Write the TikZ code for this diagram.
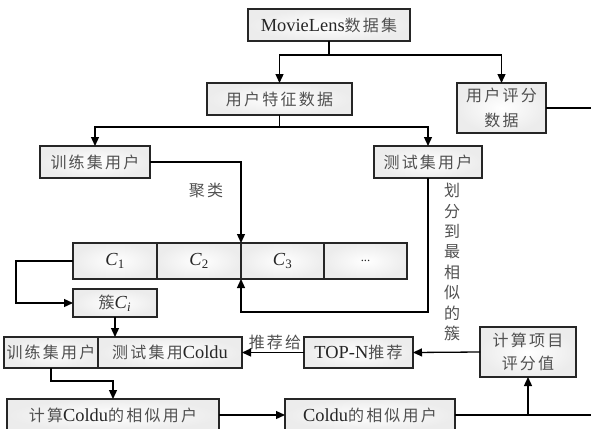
\documentclass[tikz,border=0pt]{standalone}
\usepackage{fontspec}
\setmainfont{Liberation Serif}[Scale=1.15]
\newfontfamily\cjk[LetterSpace=14,Color=505050]{Noto Sans CJK SC}
\newcommand{\zh}[1]{{\cjk #1}}
\usetikzlibrary{arrows.meta,shadings}
\begin{document}
\begin{tikzpicture}[x=1pt,y=-1pt,
  every node/.style={text=black!85,font=\fontsize{16}{19}\selectfont},
  box/.style={draw=black!85,line width=1.3pt,inner sep=0pt,outer sep=0pt,
    inner color=white,outer color=gray!15,align=center},
  arr/.style={line width=1.3pt,draw=black,-{Triangle[width=8pt,length=9pt]}},
  ln/.style={line width=1.3pt,draw=black},
  lbl/.style={inner sep=0pt}]
\useasboundingbox (0,0) rectangle (591,428);
% nodes
\node[box,minimum width=162,minimum height=32] (ml) at (329,25) {MovieLens\zh{数据集}};
\node[box,minimum width=145,minimum height=32] (feat) at (279.5,99) {\zh{用户特征数据}};
\node[box,minimum width=89,minimum height=50,font=\fontsize{16}{25}\selectfont] (rate) at (501.5,108) {\zh{用户评分}\\\zh{数据}};
\node[box,minimum width=110,minimum height=32] (train1) at (95,162) {\zh{训练集用户}};
\node[box,minimum width=108,minimum height=32] (test1) at (428,162) {\zh{测试集用户}};
\node[box,minimum width=84,minimum height=36] (c1) at (115,261) {\textit{C}\textsubscript{1}};
\node[box,minimum width=84,minimum height=36] (c2) at (199,261) {\textit{C}\textsubscript{2}};
\node[box,minimum width=83,minimum height=36] (c3) at (282.5,261) {\textit{C}\textsubscript{3}};
\node[box,minimum width=83,minimum height=36,font=\fontsize{11}{13}\selectfont] (c4) at (365.5,261) {...};
\node[box,minimum width=84,minimum height=28] (ci) at (115,303) {\zh{簇}\textit{C}\textsubscript{\textit{i}}};
\node[box,minimum width=94,minimum height=31] (train2) at (51,352.5) {\zh{训练集用户}};
\node[box,minimum width=144,minimum height=31] (test2) at (170,352.5) {\zh{测试集用}Coldu};
\node[box,minimum width=109,minimum height=31] (topn) at (358.5,352.5) {TOP-N\zh{推荐}};
\node[box,minimum width=96,minimum height=50,font=\fontsize{16}{23}\selectfont] (calc) at (528,352) {\zh{计算项目}\\\zh{评分值}};
\node[box,minimum width=212,minimum height=32] (sim1) at (113,415) {\zh{计算}Coldu\zh{的相似用户}};
\node[box,minimum width=170,minimum height=32] (sim2) at (370,415) {Coldu\zh{的相似用户}};
% labels
\node[lbl] (jl) at (206,191) {\zh{聚类}};
\node[lbl] (tj) at (275,342) {\zh{推荐给}};
\node[lbl,align=center,font=\fontsize{16}{20.4}\selectfont] (hf) at (452,262) {\zh{划}\\\zh{分}\\\zh{到}\\\zh{最}\\\zh{相}\\\zh{似}\\\zh{的}\\\zh{簇}};
\coordinate (rateout) at (595,108);
\coordinate (simout) at (595,415);
% connectors
\draw[arr] (ml.south) -- ++(0,14) -| (feat.north);
\draw[arr] (ml.south) -- ++(0,14) -| (rate.north);
\draw[ln] (rate.east) -- (rateout);
\draw[arr] (feat.south) -- ++(0,12) -| (train1.north);
\draw[arr] (feat.south) -- ++(0,12) -| (test1.north);
\draw[arr] (train1.east) -| (c3.north west);
\draw[arr] (test1.south) -- ++(0,134) -| (c3.south west);
\draw[arr] (c1.west) -- ++(-57,0) |- (ci.west);
\draw[arr] (ci.south) -- (ci.south |- test2.north);
\draw[arr] (topn.west) -- (test2.east);
\draw[arr] (calc.west) -- (topn.east);
\draw[arr] (train2.south) -- ++(0,13) -| (sim1.north);
\draw[arr] (sim1.east) -- (sim2.west);
\draw[ln] (sim2.east) -- (simout);
\draw[arr] (sim2.east -| calc.south) -- (calc.south);
\end{tikzpicture}
\end{document}
